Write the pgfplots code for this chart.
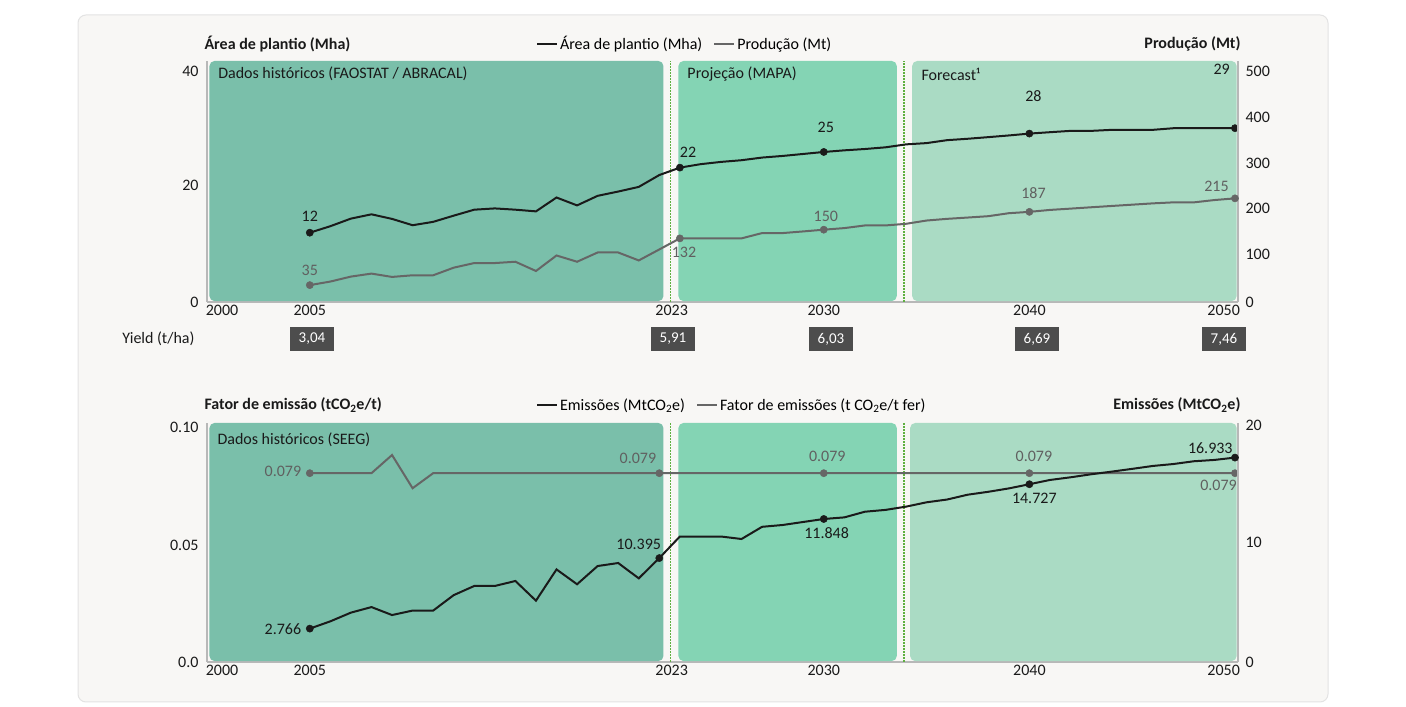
\documentclass[border=0pt]{standalone}
\usepackage{pgfplots}
\usepackage{pgfplotstable}
\pgfplotsset{compat=1.18}
\usepackage{fontspec}
\setmainfont{Carlito}

\definecolor{cardbg}{HTML}{F8F7F5}
\definecolor{cardborder}{HTML}{E3E3E3}
\definecolor{regA}{HTML}{7ABFAA}
\definecolor{regB}{HTML}{84D4B4}
\definecolor{regC}{HTML}{AADBC4}
\definecolor{linedark}{HTML}{1A1A1A}
\definecolor{linegray}{HTML}{666666}
\definecolor{axgray}{HTML}{B8B8B8}
\definecolor{dashgreen}{HTML}{5FB040}
\definecolor{boxgray}{HTML}{4D4D4D}
\definecolor{textdark}{HTML}{1A1A1A}
\definecolor{textgray}{HTML}{606060}

\newcommand{\fs}{\fontsize{16bp}{19bp}\selectfont}
\newcommand{\fsb}{\fontsize{15bp}{18bp}\selectfont}

\pgfplotstableread{
year area
2005 11.50
2006 12.58
2007 13.84
2008 14.55
2009 13.79
2010 12.74
2011 13.30
2012 14.33
2013 15.32
2014 15.53
2015 15.32
2016 15.04
2017 17.34
2018 16.03
2019 17.62
2020 18.33
2021 19.10
2022 21.07
2023 22.30
2024 22.87
2025 23.25
2026 23.53
2027 23.97
2028 24.24
2029 24.57
2030 24.90
2031 25.17
2032 25.39
2033 25.67
2034 26.16
2035 26.37
2036 26.86
2037 27.09
2038 27.36
2039 27.64
2040 27.95
2041 28.18
2042 28.40
2043 28.40
2044 28.57
2045 28.57
2046 28.57
2047 28.84
2048 28.84
2049 28.84
2050 28.85
}\areatab

\pgfplotstableread{
year prod
2005 35
2006 42.4
2007 52.7
2008 58.9
2009 52.0
2010 55.4
2011 55.4
2012 71.2
2013 80.8
2014 80.8
2015 83.5
2016 64.3
2017 96.5
2018 83.5
2019 102.7
2020 102.7
2021 86.2
2022 109.0
2023 132
2024 132
2025 132
2026 132
2027 143
2028 143
2029 146.4
2030 150
2031 153.3
2032 158.8
2033 158.8
2034 162.2
2035 169.0
2036 172.5
2037 175.2
2038 178.0
2039 184.2
2040 187
2041 191.0
2042 193.7
2043 196.5
2044 199.2
2045 201.9
2046 204.6
2047 206.7
2048 206.7
2049 211.5
2050 215
}\prodtab

\pgfplotstableread{
year emis
2005 2.766
2006 3.37
2007 4.09
2008 4.55
2009 3.89
2010 4.26
2011 4.26
2012 5.54
2013 6.30
2014 6.30
2015 6.71
2016 5.08
2017 7.67
2018 6.44
2019 7.95
2020 8.20
2021 6.93
2022 8.61
2023 10.395
2024 10.395
2025 10.395
2026 10.19
2027 11.20
2028 11.35
2029 11.60
2030 11.848
2031 11.98
2032 12.45
2033 12.60
2034 12.87
2035 13.23
2036 13.46
2037 13.86
2038 14.10
2039 14.38
2040 14.727
2041 15.08
2042 15.30
2043 15.55
2044 15.77
2045 16.00
2046 16.24
2047 16.40
2048 16.63
2049 16.74
2050 16.933
}\emistab

\pgfplotstableread{
year fator
2005 0.079
2006 0.079
2007 0.079
2008 0.079
2009 0.0866
2010 0.0727
2011 0.079
2012 0.079
2013 0.079
2014 0.079
2015 0.079
2016 0.079
2017 0.079
2018 0.079
2019 0.079
2020 0.079
2021 0.079
2022 0.079
2023 0.079
2024 0.079
2025 0.079
2026 0.079
2027 0.079
2028 0.079
2029 0.079
2030 0.079
2031 0.079
2032 0.079
2033 0.079
2034 0.079
2035 0.079
2036 0.079
2037 0.079
2038 0.079
2039 0.079
2040 0.079
2041 0.079
2042 0.079
2043 0.079
2044 0.079
2045 0.079
2046 0.079
2047 0.079
2048 0.079
2049 0.079
2050 0.079
}\fatortab

\tikzset{
  dlab/.style={font=\fs, text=textdark},
  glab/.style={font=\fs, text=textgray},
  gdash/.style={dashgreen, line width=1.2bp, dash pattern=on 2bp off 1bp},
}
\pgfplotsset{
  basex/.style={
    scale only axis, width=1031bp, xmin=2000, xmax=2050.15,
    axis line style={draw=axgray, line width=1.3bp},
    major tick length=0pt,
    tick label style={font=\fs, text=textdark},
    xtick={2000.73,2005,2022.6,2030,2040,2049.45},
    xticklabels={2000,2005,2023,2030,2040,2050},
    clip=false,
  },
  leftax/.style={axis y line*=left, axis x line*=bottom, yticklabel style={xshift=-5bp}},
  rightax/.style={axis y line*=right, hide x axis, yticklabel style={xshift=4bp}},
  legstyle/.style={
    legend style={draw=none, fill=none, font=\fs, legend columns=2, at={(0.319,#1)}, anchor=west, inner sep=0pt,
      /tikz/every even column/.append style={column sep=9bp}},
    legend image code/.code={\draw[##1] (0bp,0bp) -- (20bp,0bp);},
  },
  darkline/.style={color=linedark, line width=2bp, mark=*, mark size=3.6bp, mark options={fill=linedark, draw=linedark, line width=0.5bp}},
  grayline/.style={color=linegray, line width=2bp, mark=*, mark size=3.6bp, mark options={fill=linegray, draw=linegray, line width=0.5bp}},
}

\begin{document}
\begin{tikzpicture}[x=1bp,y=1bp]
\fill[white] (0,0) rectangle (1406,706);
\filldraw[fill=cardbg, draw=cardborder, line width=1bp, rounded corners=8bp] (78,4) rectangle (1328,691);

% ---------------- top chart ----------------
\begin{axis}[basex, leftax, at={(207bp,404bp)}, anchor=south west, height=241bp,
  ymin=0, ymax=40, ytick={0,19.3,38.3}, yticklabels={0,20,40}]
  \fill[regA, rounded corners=5bp] (axis cs:2000.12,0.15) rectangle (axis cs:2022.2,40);
  \fill[regB, rounded corners=5bp] (axis cs:2022.93,0.15) rectangle (axis cs:2033.55,40);
  \fill[regC, rounded corners=5bp] (axis cs:2034.3,0.15) rectangle (axis cs:2050.08,40);
  \draw[gdash] (axis cs:2022.56,0) -- (axis cs:2022.56,40);
  \draw[gdash] (axis cs:2033.9,0) -- (axis cs:2033.9,40);
  \node[anchor=west, dlab] at (rel axis cs:0.0075,0.946) {Dados históricos (FAOSTAT / ABRACAL)};
  \node[anchor=west, dlab] at (rel axis cs:0.4626,0.946) {Projeção (MAPA)};
  \node[anchor=west, dlab] at (rel axis cs:0.6896,0.946) {Forecast¹};
  \addplot[darkline, mark indices={1,19,26,36,46}] table[x=year,y=area] {\areatab};
  \node[dlab] at (axis cs:2005,14.27) {12};
  \node[dlab] at (axis cs:2023.4,24.9) {22};
  \node[dlab] at (axis cs:2030.1,29.05) {25};
  \node[dlab] at (axis cs:2040.2,34.19) {28};
  \node[dlab] at (axis cs:2049.35,38.67) {29};
\end{axis}
\begin{axis}[basex, rightax, legstyle=1.0705, at={(207bp,404bp)}, anchor=south west, height=241bp,
  ymin=0, ymax=500, ytick={0,99.6,195,288,384,479}, yticklabels={0,100,200,300,400,500}]
  \addlegendimage{color=linedark, line width=2bp}
  \addlegendentry{Área de plantio (Mha)}
  \addlegendimage{color=linegray, line width=2bp}
  \addlegendentry{Produção (Mt)}
  \addplot[grayline, mark indices={1,19,26,36,46}, forget plot] table[x=year,y=prod] {\prodtab};
  \node[glab] at (axis cs:2005,66.4) {35};
  \node[glab] at (axis cs:2023.2,103.7) {132};
  \node[glab] at (axis cs:2030.1,178.4) {150};
  \node[glab] at (axis cs:2040.2,226.1) {187};
  \node[glab] at (axis cs:2049.1,240.7) {215};
\end{axis}

\node[anchor=west, font=\fs\bfseries, text=textdark] at (201,662) {Área de plantio (Mha)};
\node[anchor=east, font=\fs\bfseries, text=textdark] at (1244,662) {Produção (Mt)};

% yield row
\node[anchor=east, font=\fs, text=textdark] at (198,367) {Yield (t/ha)};
\foreach \xx/\tt in {312/{3,04}, 673/{5,91}, 831/{6,03}, 1037/{6,69}, 1224/{7,46}}{
  \node[fill=boxgray, text=white, font=\fsb, minimum width=44bp, minimum height=24bp, inner sep=0pt] at (\xx,367) {\tt};
}

% ---------------- bottom chart ----------------
\begin{axis}[basex, leftax, at={(207bp,44bp)}, anchor=south west, height=239bp,
  ymin=0, ymax=0.1, ytick={0,0.049,0.0983}, yticklabels={0.0,0.05,0.10}]
  \fill[regA, rounded corners=5bp] (axis cs:2000.12,0.0004) rectangle (axis cs:2022.2,0.1);
  \fill[regB, rounded corners=5bp] (axis cs:2022.93,0.0004) rectangle (axis cs:2033.55,0.1);
  \fill[regC, rounded corners=5bp] (axis cs:2034.2,0.0004) rectangle (axis cs:2050.08,0.1);
  \draw[gdash] (axis cs:2022.56,0) -- (axis cs:2022.56,0.1);
  \draw[gdash] (axis cs:2033.9,0) -- (axis cs:2033.9,0.1);
  \node[anchor=west, dlab] at (rel axis cs:0.0068,0.929) {Dados históricos (SEEG)};
  \addplot[grayline, mark indices={1,18,26,36,46}] table[x=year,y=fator] {\fatortab};
  \node[glab, anchor=east] at (axis cs:2004.75,0.0799) {0.079};
  \node[glab] at (axis cs:2020.96,0.0854) {0.079};
  \node[glab] at (axis cs:2030.17,0.0859) {0.079};
  \node[glab] at (axis cs:2040.22,0.0859) {0.079};
  \node[glab] at (axis cs:2049.2,0.0741) {0.079};
\end{axis}
\begin{axis}[basex, rightax, legstyle=1.075, at={(207bp,44bp)}, anchor=south west, height=239bp,
  ymin=0, ymax=19.8, ytick={0,9.9,19.64}, yticklabels={0,10,20}]
  \addlegendimage{color=linedark, line width=2bp}
  \addlegendentry{Emissões (MtCO\textsubscript{2}e)}
  \addlegendimage{color=linegray, line width=2bp}
  \addlegendentry{Fator de emissões (t CO\textsubscript{2}e/t fer)}
  \addplot[darkline, mark indices={1,18,26,36,46}, forget plot] table[x=year,y=emis] {\emistab};
  \node[dlab, anchor=east] at (axis cs:2004.75,2.73) {2.766};
  \node[dlab] at (axis cs:2021.0,9.78) {10.395};
  \node[dlab] at (axis cs:2030.14,10.71) {11.848};
  \node[dlab] at (axis cs:2040.24,13.56) {14.727};
  \node[dlab] at (axis cs:2048.8,17.73) {16.933};
\end{axis}

\node[anchor=west, font=\fs\bfseries, text=textdark] at (201,301) {Fator de emissão (tCO\textsubscript{2}e/t)};
\node[anchor=east, font=\fs\bfseries, text=textdark] at (1244,301) {Emissões (MtCO\textsubscript{2}e)};
\end{tikzpicture}
\end{document}
